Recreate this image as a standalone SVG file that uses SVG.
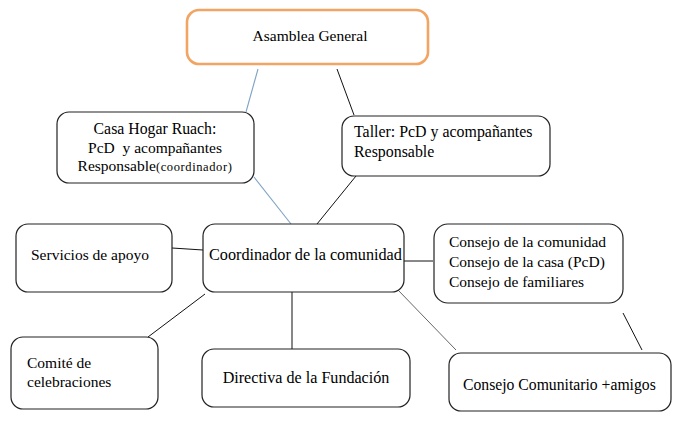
<svg xmlns="http://www.w3.org/2000/svg" width="677" height="421" viewBox="0 0 677 421">
<style>
.box{fill:#fff;stroke:#222;stroke-width:1.2}
.top{fill:#fff;stroke:#F2A463;stroke-width:2.6}
.sm{font-size:12.5px;letter-spacing:0.6px}
.c{text-anchor:middle}
.k{stroke:#111;stroke-width:1;fill:none}
.b{stroke:#7FA3C4;stroke-width:1.1;fill:none}
.g{stroke:#666;stroke-width:1;fill:none}
</style>
<rect width="677" height="421" fill="#fff"/>
<g id="connectors">
<line class="b" x1="258" y1="69" x2="246" y2="112"/>
<line class="b" x1="254" y1="177" x2="291" y2="224"/>
<line class="k" x1="337" y1="69" x2="354" y2="115"/>
<line class="k" x1="356" y1="176" x2="317" y2="224"/>
<line class="k" x1="172" y1="248" x2="203" y2="250"/>
<line class="k" x1="404" y1="261" x2="433" y2="261"/>
<line class="k" x1="205" y1="294" x2="148" y2="337"/>
<line class="k" x1="292" y1="292" x2="292" y2="349"/>
<line class="g" x1="398" y1="290" x2="456" y2="350"/>
<line class="k" x1="623" y1="313" x2="642" y2="350"/>
</g>
<g font-family="'Liberation Serif', 'Times New Roman', Times, serif" font-size="15.5" fill="#000">
<g id="asamblea">
<rect class="top" x="187" y="10" width="241" height="54" rx="12"/>
<text class="c" x="310" y="41">Asamblea General</text>
</g>
<g id="casa-hogar">
<rect class="box" x="57" y="112" width="197" height="71" rx="12"/>
<text class="c" x="155" y="134" font-size="15.8">Casa Hogar Ruach:</text>
<text class="c" x="155" y="153" xml:space="preserve">PcD  y acompañantes</text>
<text class="c" x="155" y="171">Responsable<tspan class="sm">(coordinador)</tspan></text>
</g>
<g id="taller">
<rect class="box" x="342" y="116" width="208" height="60" rx="12"/>
<text x="354" y="137" font-size="15.9">Taller: PcD y acompañantes</text>
<text x="354" y="157" font-size="15.9">Responsable</text>
</g>
<g id="servicios">
<rect class="box" x="16" y="224" width="156" height="68" rx="12"/>
<text x="31" y="260">Servicios de apoyo</text>
</g>
<g id="coordinador">
<rect class="box" x="203" y="224" width="201" height="68" rx="12"/>
<text x="209" y="260" font-size="16.2">Coordinador de la comunidad</text>
</g>
<g id="consejos">
<rect class="box" x="434" y="224" width="189" height="79" rx="14"/>
<text x="449" y="247">Consejo de la comunidad</text>
<text x="449" y="267">Consejo de la casa (PcD)</text>
<text x="449" y="287">Consejo de familiares</text>
</g>
<g id="comite">
<rect class="box" x="11" y="337" width="147" height="72" rx="12"/>
<text x="27" y="368">Comité de</text>
<text x="27" y="387">celebraciones</text>
</g>
<g id="directiva">
<rect class="box" x="202" y="349" width="208" height="58" rx="12"/>
<text class="c" x="306" y="383" font-size="16.1">Directiva de la Fundación</text>
</g>
<g id="consejo-comunitario">
<rect class="box" x="449" y="353" width="222" height="58" rx="12"/>
<text x="463" y="390" font-size="15.7">Consejo Comunitario +amigos</text>
</g>
</g>
</svg>
